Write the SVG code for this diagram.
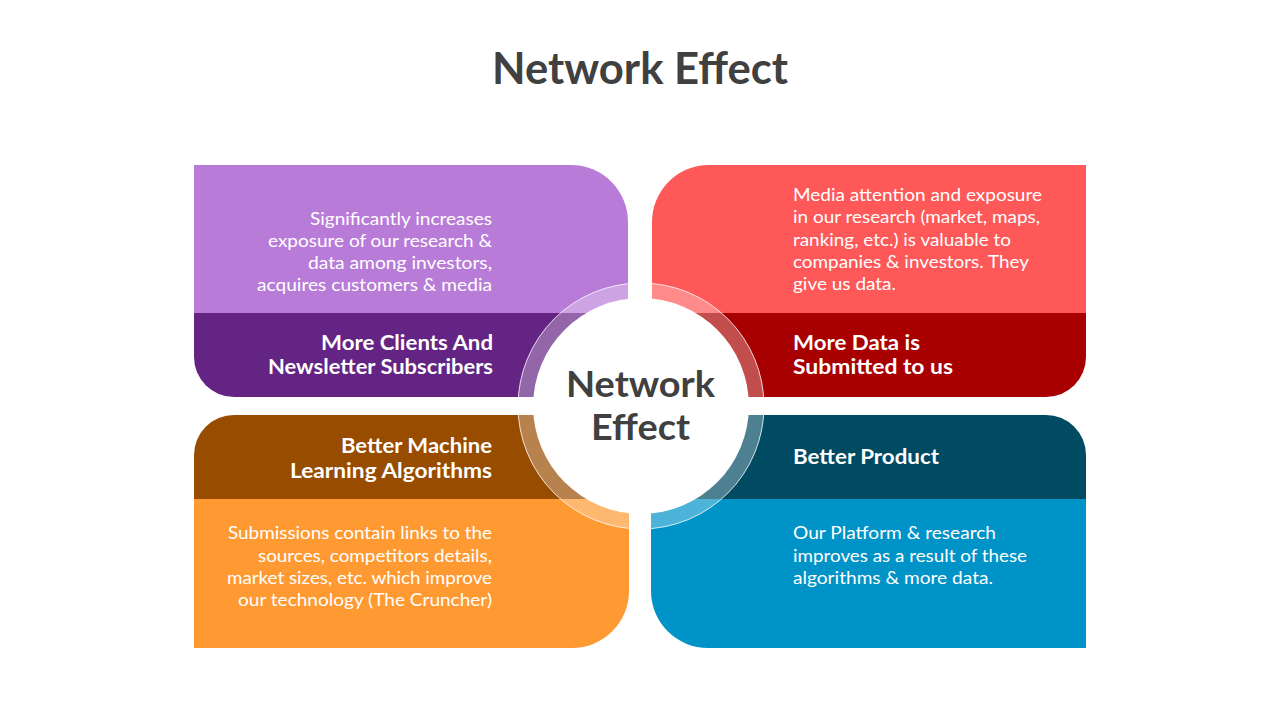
<svg xmlns="http://www.w3.org/2000/svg" width="1280" height="720" viewBox="0 0 1280 720">
<style>
.body{font-family:Lato,"Open Sans",sans-serif;font-size:18px;fill:#ffffff;}
.head{font-family:Lato,"Open Sans",sans-serif;font-size:20px;font-weight:700;fill:#ffffff;}
.r{text-anchor:end;}
.title{font-family:Lato,"Open Sans",sans-serif;font-weight:700;fill:#404040;text-anchor:middle;}
</style>
<rect width="1280" height="720" fill="#ffffff"/>
<text class="title" x="640" y="84" font-size="44" textLength="296" lengthAdjust="spacingAndGlyphs">Network Effect</text>

<g id="node-clients">
<path d="M194,165 H571 A57,57 0 0 1 628,222 V313 H194 Z" fill="#B87CD8"/>
<path d="M194,313 H628 V397 H234 A40,40 0 0 1 194,357 Z" fill="#632483"/>
<text class="body r" x="492" y="225" textLength="182" lengthAdjust="spacingAndGlyphs">Significantly increases</text>
<text class="body r" x="492" y="247" textLength="224" lengthAdjust="spacingAndGlyphs">exposure of our research &amp;</text>
<text class="body r" x="492" y="269" textLength="184" lengthAdjust="spacingAndGlyphs">data among investors,</text>
<text class="body r" x="492" y="291" textLength="235" lengthAdjust="spacingAndGlyphs">acquires customers &amp; media</text>
<text class="head r" x="493" y="350" textLength="172" lengthAdjust="spacingAndGlyphs">More Clients And</text>
<text class="head r" x="493" y="374" textLength="225" lengthAdjust="spacingAndGlyphs">Newsletter Subscribers</text>
</g>

<g id="node-data">
<path d="M709,165 H1086 V313 H652 V222 A57,57 0 0 1 709,165 Z" fill="#FE5858"/>
<path d="M652,313 H1086 V357 A40,40 0 0 1 1046,397 H652 Z" fill="#A80000"/>
<text class="body" x="793" y="201" textLength="249" lengthAdjust="spacingAndGlyphs">Media attention and exposure</text>
<text class="body" x="793" y="223" textLength="247" lengthAdjust="spacingAndGlyphs">in our research (market, maps,</text>
<text class="body" x="793" y="246" textLength="218" lengthAdjust="spacingAndGlyphs">ranking, etc.) is valuable to</text>
<text class="body" x="793" y="268" textLength="236" lengthAdjust="spacingAndGlyphs">companies &amp; investors. They</text>
<text class="body" x="793" y="290" textLength="103" lengthAdjust="spacingAndGlyphs">give us data.</text>
<text class="head" x="793" y="350" textLength="127" lengthAdjust="spacingAndGlyphs">More Data is</text>
<text class="head" x="793" y="374" textLength="160" lengthAdjust="spacingAndGlyphs">Submitted to us</text>
</g>

<g id="node-algorithms">
<path d="M234,415 H629 V499 H194 V455 A40,40 0 0 1 234,415 Z" fill="#984C00"/>
<path d="M194,499 H629 V591 A57,57 0 0 1 572,648 H194 Z" fill="#FF9A33"/>
<text class="head r" x="492" y="453" textLength="151" lengthAdjust="spacingAndGlyphs">Better Machine</text>
<text class="head r" x="492" y="478" textLength="202" lengthAdjust="spacingAndGlyphs">Learning Algorithms</text>
<text class="body r" x="492" y="539" textLength="264" lengthAdjust="spacingAndGlyphs">Submissions contain links to the</text>
<text class="body r" x="492" y="562" textLength="234" lengthAdjust="spacingAndGlyphs">sources, competitors details,</text>
<text class="body r" x="492" y="584" textLength="265" lengthAdjust="spacingAndGlyphs">market sizes, etc. which improve</text>
<text class="body r" x="492" y="606" textLength="254" lengthAdjust="spacingAndGlyphs">our technology (The Cruncher)</text>
</g>

<g id="node-product">
<path d="M651,415 H1046 A40,40 0 0 1 1086,455 V499 H651 Z" fill="#004A62"/>
<path d="M651,499 H1086 V648 H708 A57,57 0 0 1 651,591 Z" fill="#0093C7"/>
<text class="head" x="793" y="464" textLength="146" lengthAdjust="spacingAndGlyphs">Better Product</text>
<text class="body" x="793" y="539" textLength="203" lengthAdjust="spacingAndGlyphs">Our Platform &amp; research</text>
<text class="body" x="793" y="562" textLength="234" lengthAdjust="spacingAndGlyphs">improves as a result of these</text>
<text class="body" x="793" y="584" textLength="200" lengthAdjust="spacingAndGlyphs">algorithms &amp; more data.</text>
</g>

<g id="node-center">
<circle cx="641" cy="406" r="115.5" fill="none" stroke="#ffffff" stroke-width="15" stroke-opacity="0.3"/>
<circle cx="641" cy="406" r="123" fill="none" stroke="#ffffff" stroke-width="1" stroke-opacity="0.8"/>
<circle cx="641" cy="406" r="108" fill="#ffffff"/>
<text class="title" x="640.5" y="397" font-size="37" textLength="149" lengthAdjust="spacingAndGlyphs">Network</text>
<text class="title" x="640.5" y="440" font-size="37" textLength="99" lengthAdjust="spacingAndGlyphs">Effect</text>
</g>

<g id="connectors"></g>
</svg>
